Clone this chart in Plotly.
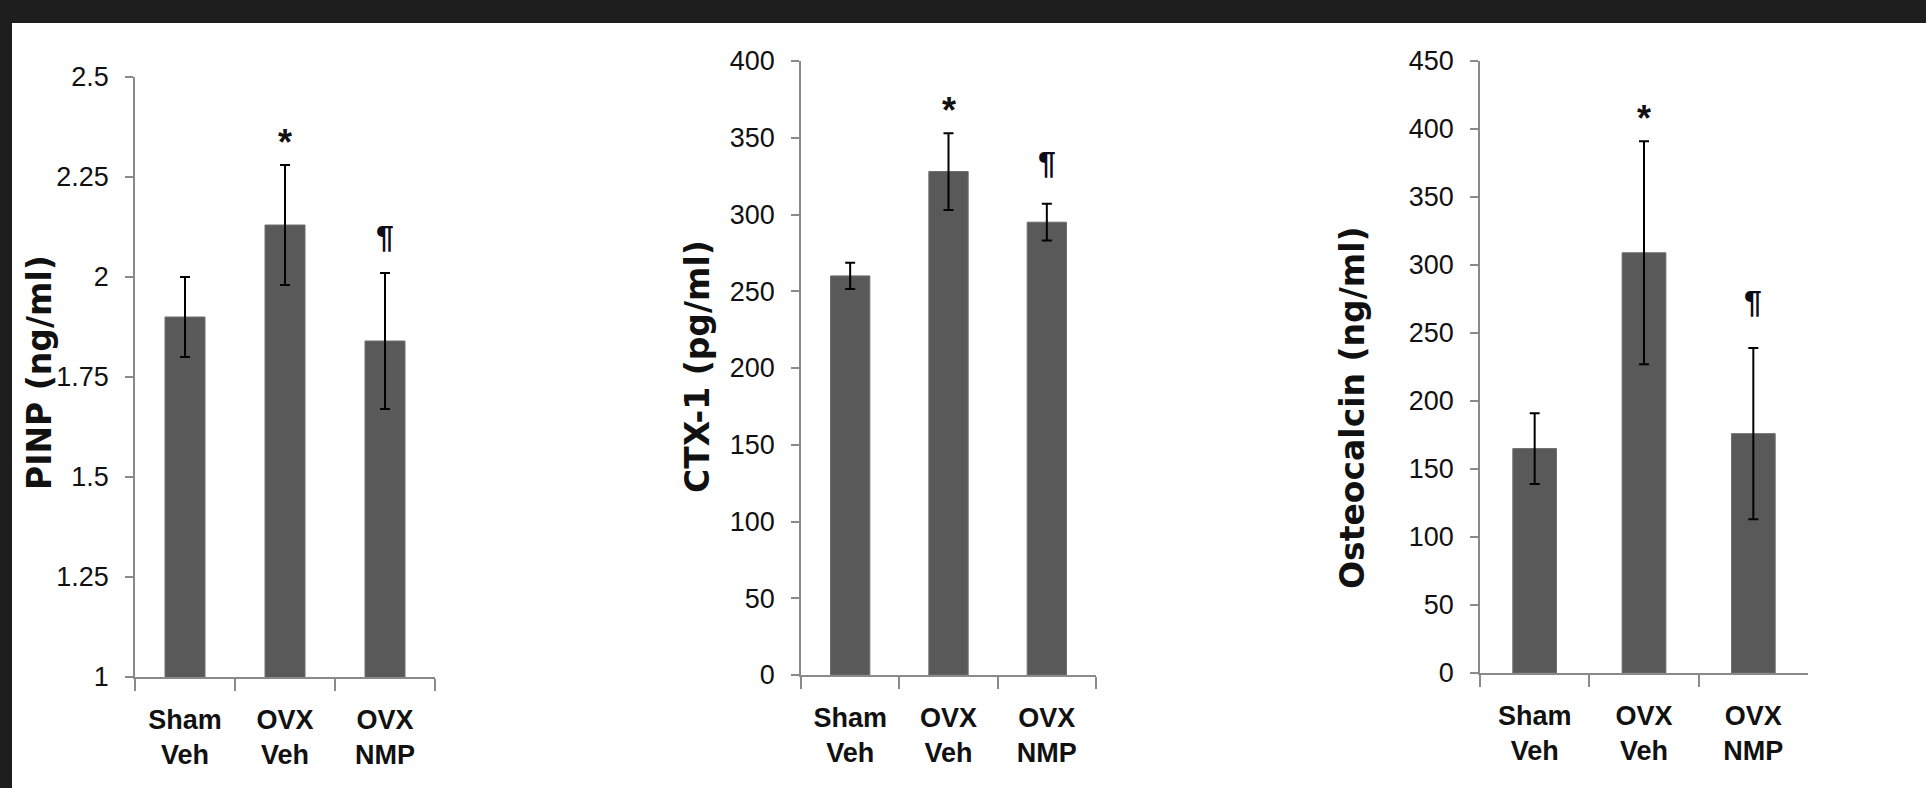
import plotly.graph_objects as go

# ---------------- data ----------------
categories = ["Sham<br>Veh", "OVX<br>Veh", "OVX<br>NMP"]

pinp_mean = [1.90, 2.13, 1.84]
pinp_err = [0.10, 0.15, 0.17]
pinp_ticks = [1, 1.25, 1.5, 1.75, 2, 2.25, 2.5]
pinp_ticktext = ["1", "1.25", "1.5", "1.75", "2", "2.25", "2.5"]

ctx_mean = [260, 328, 295]
ctx_err = [8.5, 25, 12]
ctx_ticks = [0, 50, 100, 150, 200, 250, 300, 350, 400]

ost_mean = [165, 309, 176]
ost_err = [26, 82, 63]
ost_ticks = [0, 50, 100, 150, 200, 250, 300, 350, 400, 450]

titles = ["PINP (ng/ml)", "CTX-1 (pg/ml)", "Osteocalcin (ng/ml)"]
star_idx = [1, 1, 1]      # category with "*"
para_idx = [2, 2, 2]      # category with "¶"

# ---------------- layout geometry ----------------
W, H = 1926, 788
def px(x):
    return x / W
def py(y):
    return 1 - y / H

SANS = "Liberation Sans, Arial, sans-serif"
BAR = "#595959"
AX = "#8a8a8a"
TXT = "#111111"

fig = go.Figure()

panels = [
    dict(mean=pinp_mean, err=pinp_err, ticks=pinp_ticks, ticktext=pinp_ticktext,
         rng=[1, 2.5], xd=[px(135), px(435)], yd=[py(677), py(77)],
         title_xy=(39, 373), para_shift=16),
    dict(mean=ctx_mean, err=ctx_err, ticks=ctx_ticks, ticktext=[str(t) for t in ctx_ticks],
         rng=[0, 400], xd=[px(801), px(1096)], yd=[py(675), py(61)],
         title_xy=(697, 367), para_shift=21),
    dict(mean=ost_mean, err=ost_err, ticks=ost_ticks, ticktext=[str(t) for t in ost_ticks],
         rng=[0, 450], xd=[px(1480), px(1808)], yd=[py(673), py(61)],
         title_xy=(1352, 408), para_shift=26),
]

annotations = []
for i, p in enumerate(panels):
    n = "" if i == 0 else str(i + 1)
    xa, ya = "x" + n, "y" + n
    fig.add_trace(go.Bar(
        x=categories, y=p["mean"], xaxis=xa, yaxis=ya,
        marker=dict(color=BAR, line=dict(color="#6e6e6e", width=1)),
        width=0.4,
        error_y=dict(type="data", array=p["err"], color="black", thickness=2, width=5),
        showlegend=False, hoverinfo="skip",
    ))
    common_x = dict(
        domain=p["xd"], anchor=ya, type="category", automargin=False,
        showline=True, linecolor=AX, linewidth=1.5,
        ticks="outside", tickson="boundaries", ticklen=12, tickcolor=AX, tickwidth=1.5,
        tickfont=dict(family=SANS, size=27, color=TXT, weight="bold"),
        ticklabelstandoff=18,
        showgrid=False, zeroline=False, fixedrange=True,
    )
    common_y = dict(
        domain=p["yd"], anchor=xa, range=p["rng"], automargin=False,
        tickvals=p["ticks"], ticktext=p["ticktext"],
        showline=True, linecolor=AX, linewidth=1.5,
        ticks="outside", ticklen=8, tickcolor=AX, tickwidth=1.5,
        tickfont=dict(family=SANS, size=27, color=TXT),
        ticklabelstandoff=11,
        showgrid=False, zeroline=False, fixedrange=True,
    )
    fig.layout["xaxis" + n] = common_x
    fig.layout["yaxis" + n] = common_y

    tx, ty = p["title_xy"]
    annotations.append(dict(
        text=titles[i], xref="paper", yref="paper", x=px(tx), y=py(ty),
        xanchor="center", yanchor="middle", textangle=-90, showarrow=False,
        font=dict(family="DejaVu Sans, Liberation Sans, Arial", size=33, color=TXT, weight="bold"),
    ))
    s = star_idx[i]
    annotations.append(dict(
        text="*", xref=xa, yref=ya, x=categories[s], y=p["mean"][s] + p["err"][s],
        yanchor="bottom", yshift=0, showarrow=False,
        font=dict(family=SANS, size=36, color=TXT, weight="bold"),
    ))
    q = para_idx[i]
    annotations.append(dict(
        text="¶", xref=xa, yref=ya, x=categories[q], y=p["mean"][q] + p["err"][q],
        yanchor="bottom", yshift=p["para_shift"], showarrow=False,
        font=dict(family=SANS, size=32, color="#0d0d1a", weight="bold"),
    ))

shapes = [
    dict(type="rect", xref="paper", yref="paper", x0=0, x1=1, y0=py(23), y1=1,
         fillcolor="#1e1e1e", line=dict(width=0), layer="below"),
    dict(type="rect", xref="paper", yref="paper", x0=0, x1=px(12), y0=0, y1=1,
         fillcolor="#1e1e1e", line=dict(width=0), layer="below"),
]

fig.update_layout(
    width=W, height=H, margin=dict(l=0, r=0, t=0, b=0, pad=0, autoexpand=False),
    paper_bgcolor="white", plot_bgcolor="rgba(0,0,0,0)",
    bargap=0.6, annotations=annotations, shapes=shapes, showlegend=False,
)

fig.write_html(
    "out.html",
    config={"displayModeBar": False},
    post_script="document.body.style.margin='0';document.body.style.overflow='hidden';",
)
